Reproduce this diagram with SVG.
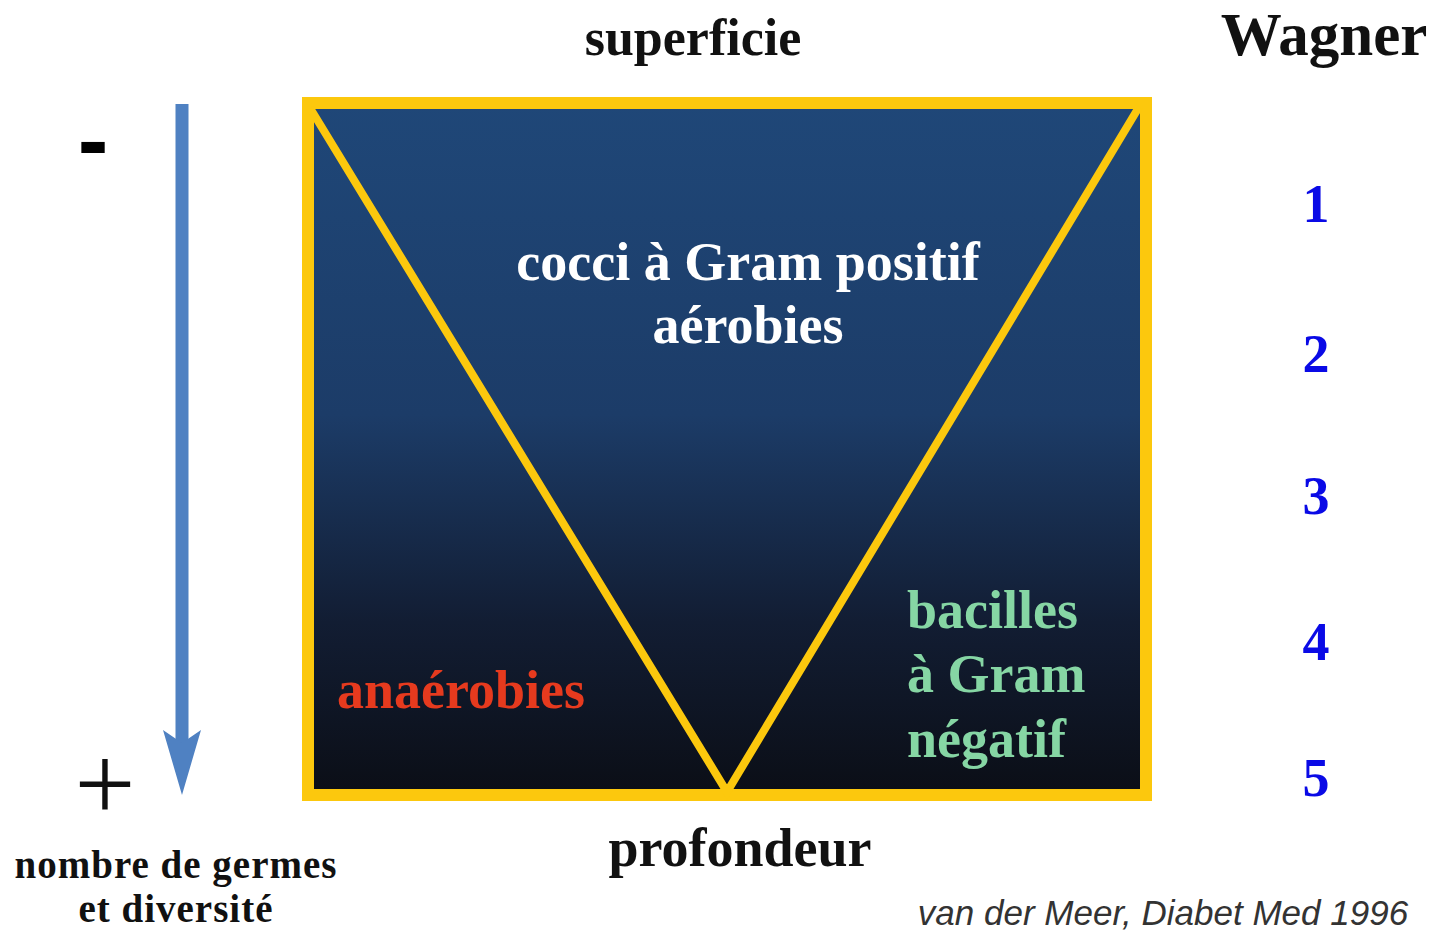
<svg xmlns="http://www.w3.org/2000/svg" width="1442" height="933" viewBox="0 0 1442 933">
<defs>
<linearGradient id="bg" x1="0" y1="0" x2="0" y2="1">
<stop offset="0" stop-color="#1f4778"/>
<stop offset="0.45" stop-color="#1c3c68"/>
<stop offset="0.75" stop-color="#121d33"/>
<stop offset="1" stop-color="#0b0e16"/>
</linearGradient>
<style>
.b{font-family:"Liberation Serif",serif;font-weight:bold}
.w{fill:#ffffff;font-size:54px}
.n{fill:#0a0ae6;font-size:54px;text-anchor:middle}
.g{fill:#86d6a4;font-size:54px}
</style>
</defs>
<rect width="1442" height="933" fill="#ffffff"/>
<g id="box">
<rect x="308" y="103" width="838" height="692" fill="url(#bg)" stroke="#fcc80d" stroke-width="12"/>
</g>
<g id="connectors">
<polyline points="310,108 727,792 1139,107" fill="none" stroke="#fcc80d" stroke-width="8" stroke-linejoin="miter"/>
<line x1="182" y1="104" x2="182" y2="745" stroke="#4f81c2" stroke-width="13"/>
<polygon points="163,730 182,743 201,730 182,795" fill="#4f81c2"/>
</g>
<g id="labels">
<text class="b" x="693" y="55" font-size="52" text-anchor="middle" fill="#111">superficie</text>
<text class="b" x="1324" y="55" font-size="61" text-anchor="middle" fill="#111">Wagner</text>
<text class="b w" x="748" y="280" text-anchor="middle">cocci à Gram positif</text>
<text class="b w" x="748" y="343" text-anchor="middle">aérobies</text>
<text class="b" x="337" y="708" font-size="54" fill="#e63a1e">anaérobies</text>
<text class="b g" x="907" y="628">bacilles</text>
<text class="b g" x="907" y="692">à Gram</text>
<text class="b g" x="907" y="757">négatif</text>
<text class="b" x="740" y="866" font-size="54" text-anchor="middle" fill="#111">profondeur</text>
<text class="b" x="176" y="878" font-size="39" letter-spacing="1" text-anchor="middle" fill="#111">nombre de germes</text>
<text class="b" x="176" y="922" font-size="39" letter-spacing="1" text-anchor="middle" fill="#111">et diversité</text>
<text x="93" y="172" font-family="Liberation Sans,sans-serif" font-weight="bold" font-size="92" text-anchor="middle" fill="#000">-</text>
<text x="105" y="820" font-family="Liberation Serif,serif" font-size="108" text-anchor="middle" fill="#111">+</text>
<text x="1163" y="925" font-family="Liberation Sans,sans-serif" font-style="italic" font-size="35" text-anchor="middle" fill="#333">van der Meer, Diabet Med 1996</text>
</g>
<g id="wagner">
<text class="b n" x="1316" y="222">1</text>
<text class="b n" x="1316" y="372">2</text>
<text class="b n" x="1316" y="514">3</text>
<text class="b n" x="1316" y="660">4</text>
<text class="b n" x="1316" y="796">5</text>
</g>
</svg>
